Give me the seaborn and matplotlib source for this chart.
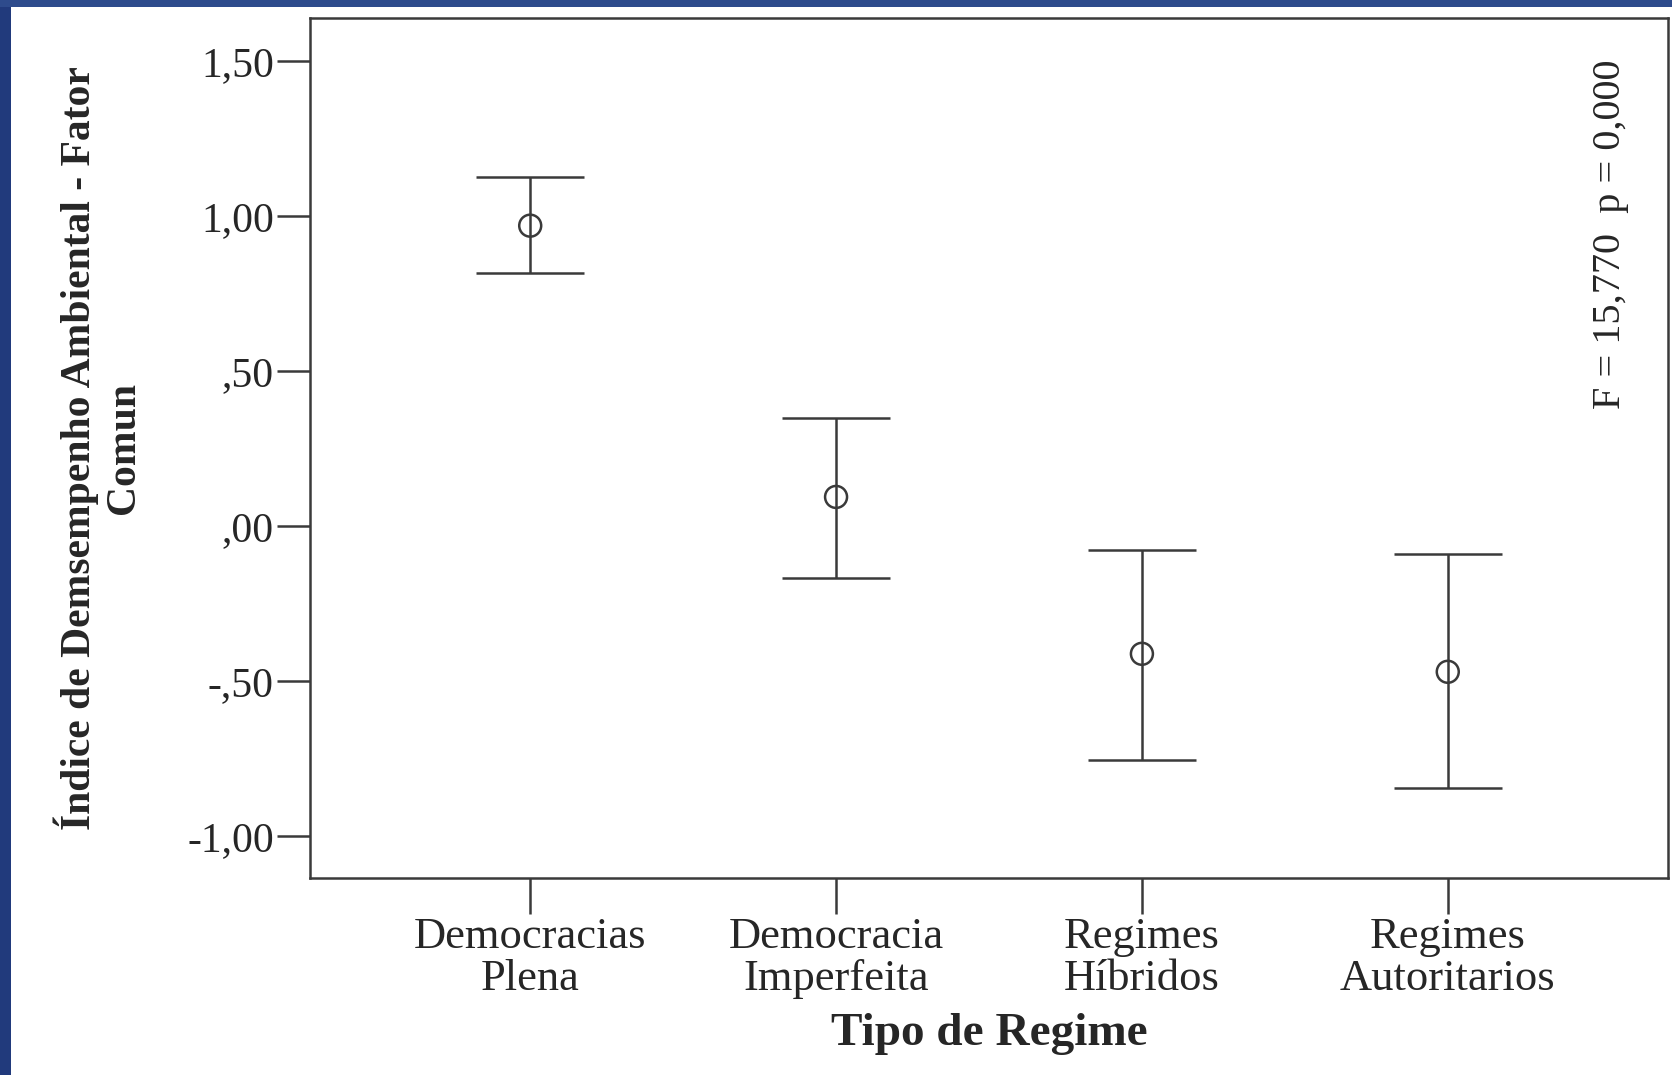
import numpy as np
import pandas as pd
import seaborn as sns
import matplotlib.pyplot as plt
from matplotlib.patches import Rectangle

# Data (means and 95% CI bounds)
regimes = ["Democracias\nPlena", "Democracia\nImperfeita", "Regimes\nHíbridos", "Regimes\nAutoritarios"]
means = [0.969, 0.094, -0.412, -0.470]
upper = [1.126, 0.348, -0.078, -0.090]
lower = [0.817, -0.168, -0.753, -0.845]
yticks = [-1.0, -0.5, 0.0, 0.5, 1.0, 1.5]
ytick_labels = ["-1,00", "-,50", ",00", ",50", "1,00", "1,50"]

df = pd.DataFrame({"regime": regimes, "mean": means, "upper": upper, "lower": lower})

sns.set_style("white")
plt.rcParams["font.family"] = ["Liberation Serif", "DejaVu Serif"]

fig = plt.figure(figsize=(16.72, 10.75), dpi=100)
ax = fig.add_axes([0.1854, 0.1833, 0.8122, 0.8000])

line_col = "#3a3a3a"
xpos = np.arange(len(regimes))
ax.errorbar(xpos, df["mean"],
            yerr=[df["mean"] - df["lower"], df["upper"] - df["mean"]],
            fmt="none", ecolor=line_col, elinewidth=1.8, capsize=39, capthick=1.8)
sns.scatterplot(data=df, x="regime", y="mean", ax=ax, s=250, marker="o",
                facecolor="none", edgecolor=line_col, linewidth=1.8, zorder=3)

ax.set_xlim(-0.72, 3.72)
ax.set_ylim(-1.135, 1.639)
ax.set_yticks(yticks)
ax.set_yticklabels(ytick_labels)
ax.set_xticks(xpos)
ax.set_xticklabels(regimes, linespacing=1.08)
ax.tick_params(axis="y", length=24, width=1.8, color=line_col, labelsize=30, pad=2, left=True)
ax.tick_params(axis="x", length=26, width=1.8, color=line_col, labelsize=32, pad=2, bottom=True)

for sp in ax.spines.values():
    sp.set_visible(True)
    sp.set_color(line_col)
    sp.set_linewidth(1.8)

ax.set_xlabel("Tipo de Regime", fontsize=34, fontweight="bold", labelpad=10)
ax.set_ylabel("Índice de Demsempenho Ambiental - Fator\nComun", fontsize=30,
              fontweight="bold", linespacing=1.2, labelpad=32)

ax.text(0.9575, 0.952, "F = 15,770  p = 0,000", transform=ax.transAxes,
        rotation=90, ha="center", va="top", fontsize=29)

# slide frame strips (left and top)
fig.patches.append(Rectangle((0, 0), 11 / 1672, 1, transform=fig.transFigure,
                             facecolor="#213a7c", edgecolor="none", zorder=10))
fig.patches.append(Rectangle((0, 1 - 7 / 1075), 1, 7 / 1075, transform=fig.transFigure,
                             facecolor="#2e4b8c", edgecolor="none", zorder=10))

fig.savefig("out.png", dpi=100)
